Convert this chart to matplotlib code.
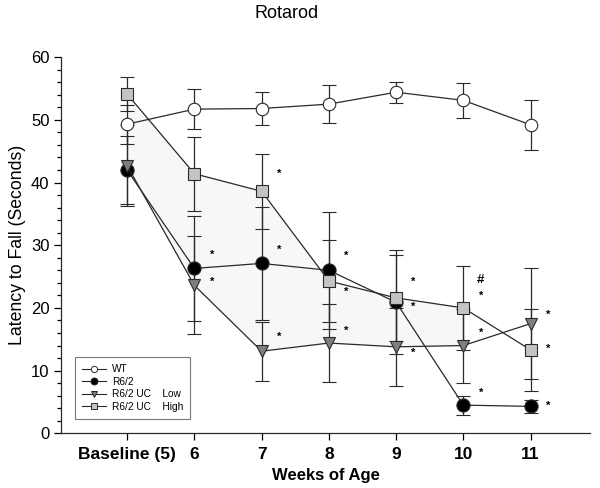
import numpy as np
import matplotlib
matplotlib.use("Agg")
import matplotlib.pyplot as plt
from matplotlib.lines import Line2D
from matplotlib.ticker import MultipleLocator

plt.rcParams['font.family'] = ['Liberation Sans', 'DejaVu Sans']

# Data
weeks = [5, 6, 7, 8, 9, 10, 11]
week_labels = ['Baseline (5)', '6', '7', '8', '9', '10', '11']

wt = [49.3, 51.7, 51.8, 52.5, 54.4, 53.1, 49.2]
wt_err = [3.1, 3.2, 2.7, 3.05, 1.65, 2.75, 4.0]

r62 = [42.0, 26.3, 27.1, 26.0, 20.9, 4.5, 4.3]
r62_err = [5.4, 8.4, 9.0, 9.3, 8.3, 1.5, 1.05]

low = [42.7, 23.6, 13.1, 14.4, 13.8, 14.0, 17.5]
low_err = [6.5, 7.8, 4.7, 6.2, 6.2, 5.9, 8.9]

high = [54.1, 41.4, 38.6, 24.3, 21.6, 20.0, 13.3]
high_err = [2.7, 5.9, 6.0, 6.5, 6.8, 6.7, 6.5]

# significance marks: week, y value, symbol
ann_x = [6, 6, 7, 7, 7, 8, 8, 8, 9, 9, 9, 10, 10, 10, 10, 11, 11, 11]
ann_y = [28.5, 24.2, 41.4, 29.3, 15.4, 28.3, 22.6, 16.3, 24.1, 20.2, 12.9,
         24.4, 22.0, 16.1, 6.5, 18.9, 13.5, 4.4]
ann_txt = ['*', '*', '*', '*', '*', '*', '*', '*', '*', '*', '*',
           '#', '*', '*', '*', '*', '*', '*']

fig = plt.figure(figsize=(6.0, 4.88), dpi=100)
ax = fig.add_axes([0.102, 0.112, 0.881, 0.771])

line_col = '#2a2a2a'

# very light shading between the two UC groups, baseline to week 10
ax.fill_between(weeks[:6], low[:6], high[:6], color='#f7f7f7', zorder=0)

common = dict(color=line_col, ecolor=line_col, elinewidth=0.9, capsize=5,
              capthick=0.9, linewidth=0.9, markeredgecolor=line_col,
              markeredgewidth=0.8)
ax.errorbar(weeks, wt, yerr=wt_err, marker='o', markersize=9,
            markerfacecolor='white', **common)
ax.errorbar(weeks, r62, yerr=r62_err, marker='o', markersize=9.5,
            markerfacecolor='black', **common)
ax.errorbar(weeks, low, yerr=low_err, marker='v', markersize=9,
            markerfacecolor='#7f7f7f', **common)
ax.errorbar(weeks, high, yerr=high_err, marker='s', markersize=8,
            markerfacecolor='#c4c4c4', **common)

for x, y, t in zip(ann_x, ann_y, ann_txt):
    ax.text(x + 0.26, y, t, fontsize=8 if t == '*' else 9.5, fontweight='bold',
            ha='center', va='center', color='black')

ax.set_xlim(4.02, 11.88)
ax.set_ylim(0, 60)
ax.set_xticks(weeks)
ax.set_xticklabels(week_labels, fontweight='bold', fontsize=12.5)
ax.yaxis.set_major_locator(MultipleLocator(10))
ax.yaxis.set_minor_locator(MultipleLocator(2))
ax.tick_params(axis='y', labelsize=12, direction='out', length=5, width=0.9)
ax.tick_params(axis='y', which='minor', direction='out', length=3, width=0.9)
ax.tick_params(axis='x', direction='out', length=5, width=0.9, pad=5)
for s in ['top', 'right']:
    ax.spines[s].set_visible(False)
for s in ['left', 'bottom']:
    ax.spines[s].set_linewidth(0.9)
    ax.spines[s].set_color(line_col)

ax.set_xlabel('Weeks of Age', fontweight='bold', fontsize=12, labelpad=4)
ax.set_ylabel('Latency to Fall (Seconds)', fontsize=12.7, va='center')
ax.yaxis.set_label_coords(-0.083, 0.5)
fig.text(287 / 600, 1 - 14 / 488, 'Rotarod', ha='center', va='center', fontsize=13)

leg_kw = dict(color=line_col, linewidth=0.8, markeredgecolor=line_col,
              markeredgewidth=0.7)
handles = [
    Line2D([], [], marker='o', markersize=4.5, markerfacecolor='white', **leg_kw),
    Line2D([], [], marker='o', markersize=5, markerfacecolor='black', **leg_kw),
    Line2D([], [], marker='v', markersize=4.5, markerfacecolor='#7f7f7f', **leg_kw),
    Line2D([], [], marker='s', markersize=4, markerfacecolor='#c4c4c4', **leg_kw),
]
labels = ['WT', 'R6/2', 'R6/2 UC    Low', 'R6/2 UC    High']
leg = ax.legend(handles, labels, loc='lower left', bbox_to_anchor=(0.017, 0.025),
                fontsize=7.3, frameon=True, fancybox=False, handlelength=2.3,
                borderpad=0.7, labelspacing=0.25, handletextpad=0.6)
leg.get_frame().set_edgecolor('#555555')
leg.get_frame().set_linewidth(0.8)

fig.savefig('out.png', dpi=100)
